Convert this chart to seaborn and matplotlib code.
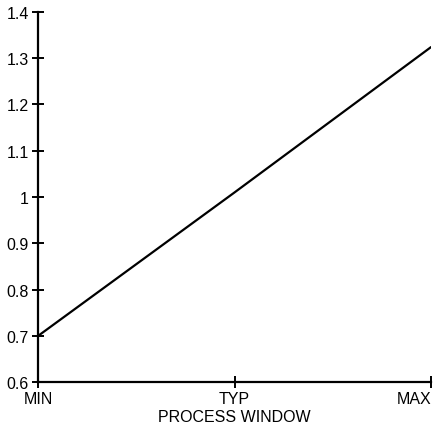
import numpy as np
import matplotlib
matplotlib.use("Agg")
import matplotlib.pyplot as plt
import seaborn as sns
from matplotlib.ticker import FuncFormatter

# chart data
corners = ["MIN", "TYP", "MAX"]
values = [0.70, 1.01, 1.324]
y_ticks = [0.6, 0.7, 0.8, 0.9, 1.0, 1.1, 1.2, 1.3, 1.4]

sns.set_style("ticks")
plt.rcParams['font.family'] = ['Liberation Sans', 'DejaVu Sans']
plt.rcParams['text.color'] = 'black'
plt.rcParams['xtick.color'] = 'black'
plt.rcParams['ytick.color'] = 'black'
plt.rcParams['axes.labelcolor'] = 'black'

fig = plt.figure(figsize=(4.38, 4.31), dpi=100)
ax = fig.add_axes([0.087, 0.111, 0.897, 0.859])

sns.lineplot(x=np.arange(len(corners)), y=values, color="black", linewidth=1.6, ax=ax)

ax.set_xlim(0, len(corners) - 1)
ax.set_ylim(0.6, 1.4)
ax.set_xticks(np.arange(len(corners)))
ax.set_xticklabels(corners)
ax.set_yticks(y_ticks)
ax.yaxis.set_major_formatter(FuncFormatter(lambda v, p: f"{v:g}"))

ax.tick_params(direction="inout", length=9, width=1.4, labelsize=11.5, pad=2)
ax.get_xticklabels()[-1].set_horizontalalignment("right")
ax.set_xlabel("PROCESS WINDOW", fontsize=11.5, labelpad=2)
ax.set_ylabel("")

sns.despine(ax=ax)
for s in ["left", "bottom"]:
    ax.spines[s].set_linewidth(1.6)
    ax.spines[s].set_color("black")

fig.savefig("out.png", dpi=100)
